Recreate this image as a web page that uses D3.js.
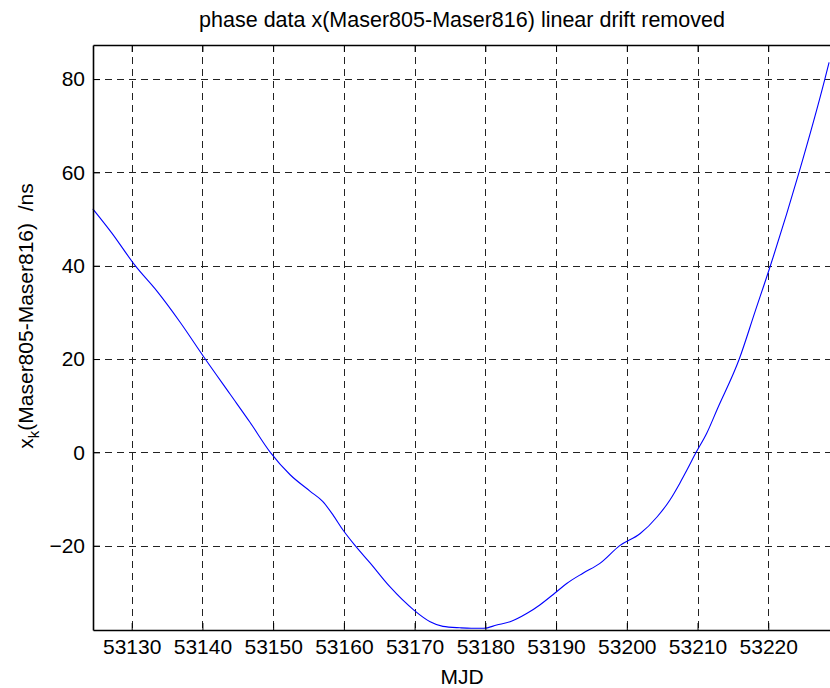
<!DOCTYPE html>
<html>
<head>
<meta charset="utf-8">
<script src="https://cdn.jsdelivr.net/npm/d3@7"></script>
<style>
  body { margin: 0; background: #fff; }
  svg { display: block; }
  text { font-family: "Liberation Sans", Arial, Helvetica, sans-serif; fill: #000; }
</style>
</head>
<body>
<svg id="chart" width="830" height="688"></svg>
<script>
// Phase difference between the two masers after removing the linear drift
const mjd = [53124.5, 53127.2, 53130.5, 53133.6, 53136.8, 53140.4, 53143.9, 53146.7, 53149.6,
             53152.4, 53155.2, 53157.0, 53158.5, 53159.9, 53161.6, 53163.7, 53166.5, 53169.9,
             53172.2, 53174.0, 53176.4, 53178.0, 53179.8, 53181.6, 53183.5, 53185.9, 53187.7,
             53189.8, 53191.5, 53193.8, 53196.2, 53199.0, 53201.9, 53204.3, 53206.1, 53207.5,
             53208.5, 53209.8, 53211.3, 53212.8, 53215.9, 53218.1, 53220.3, 53224.35, 53228.0,
             53228.6];
const phase = [52.2, 47.0, 40.0, 34.5, 28.0, 20.0, 12.5, 6.5, 0.0,
               -4.8, -8.3, -10.5, -13.5, -16.7, -20.0, -23.7, -28.8, -33.8,
               -36.3, -37.3, -37.6, -37.7, -37.7, -37.0, -36.3, -34.5, -32.7,
               -30.2, -28.1, -25.9, -23.8, -20.0, -17.4, -13.8, -10.2, -6.6,
               -3.8, 0.0, 4.1, 9.3, 20.0, 30.0, 40.0, 60.0, 80.0,
               83.6];

const xTicks = [53130, 53140, 53150, 53160, 53170, 53180, 53190, 53200, 53210, 53220];
const yTicks = [-20, 0, 20, 40, 60, 80];
const xDomain = [53124.53, 53228.87];
const yDomain = [-38.07, 87.3];

const titleText = "phase data x(Maser805-Maser816) linear drift removed";
const xLabelText = "MJD";

const svg = d3.select("#chart");
const plot = { left: 93, right: 831, top: 45, bottom: 630 };

const x = d3.scaleLinear().domain(xDomain).range([plot.left, plot.right]);
const y = d3.scaleLinear().domain(yDomain).range([plot.bottom, plot.top]);

// dashed grid
const grid = svg.append("g").attr("stroke", "#222").attr("stroke-width", 1)
  .attr("stroke-dasharray", "7,5").attr("shape-rendering", "crispEdges");
grid.selectAll("line.v").data(xTicks).join("line").attr("class", "v")
  .attr("x1", d => Math.round(x(d)) + 0.5).attr("x2", d => Math.round(x(d)) + 0.5)
  .attr("y1", plot.top).attr("y2", plot.bottom);
grid.selectAll("line.h").data(yTicks).join("line").attr("class", "h")
  .attr("y1", d => Math.round(y(d)) + 0.5).attr("y2", d => Math.round(y(d)) + 0.5)
  .attr("x1", plot.left).attr("x2", plot.right);

// data line
const line = d3.line().x((d, i) => x(mjd[i])).y(d => y(d)).curve(d3.curveMonotoneX);
svg.append("path").datum(phase)
  .attr("fill", "none").attr("stroke", "#0000ff").attr("stroke-width", 1.1)
  .attr("d", line);

// axes with inward ticks
const fontSize = 21;
const xAxis = svg.append("g").attr("transform", `translate(0,${plot.bottom})`)
  .call(d3.axisBottom(x).tickValues(xTicks).tickFormat(d3.format("d"))
        .tickSizeInner(-7).tickSizeOuter(0).tickPadding(9));
const xAxisTop = svg.append("g").attr("transform", `translate(0,${plot.top})`)
  .call(d3.axisTop(x).tickValues(xTicks).tickFormat("")
        .tickSizeInner(-7).tickSizeOuter(0));
const yAxis = svg.append("g").attr("transform", `translate(${plot.left},0)`)
  .call(d3.axisLeft(y).tickValues(yTicks).tickFormat(d3.format("d"))
        .tickSizeInner(-7).tickSizeOuter(0).tickPadding(8));

[xAxis, xAxisTop, yAxis].forEach(g => {
  g.selectAll("path.domain").attr("stroke", "#000").attr("stroke-width", 1.6);
  g.selectAll(".tick line").attr("stroke", "#000").attr("stroke-width", 1);
  g.selectAll(".tick text").attr("font-size", fontSize)
    .attr("font-family", '"Liberation Sans", Arial, sans-serif').attr("fill", "#000");
});

// title
svg.append("text").attr("x", 462).attr("y", 27).attr("text-anchor", "middle")
  .attr("font-size", 21.5).text(titleText);

// x label
svg.append("text").attr("x", 462).attr("y", 684).attr("text-anchor", "middle")
  .attr("font-size", fontSize).text(xLabelText);

// y label with subscript
const yl = svg.append("text").attr("transform", "translate(33,316) rotate(-90)")
  .attr("text-anchor", "middle").attr("font-size", fontSize)
  .style("white-space", "pre");
yl.append("tspan").text("x");
yl.append("tspan").attr("font-size", 15).attr("dy", 6).text("k");
yl.append("tspan").attr("dy", -6).text("(Maser805-Maser816)  /ns");
</script>
</body>
</html>
